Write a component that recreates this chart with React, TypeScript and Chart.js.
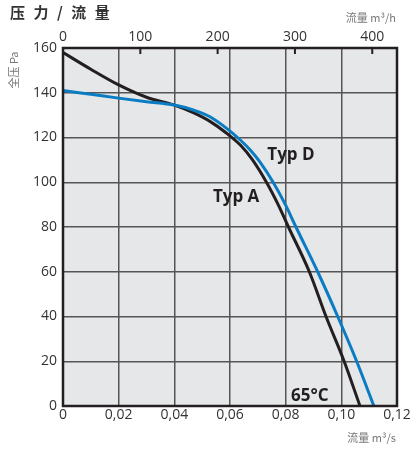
import React, { useEffect, useRef } from "react";
import { Chart, registerables } from "chart.js";
Chart.register(...registerables);

// Typ A (black) – flow m³/s vs pressure Pa
const typAFlow = [0, 0.01, 0.02, 0.03, 0.04, 0.0468, 0.0528, 0.0588, 0.0638, 0.0681, 0.0731, 0.0773, 0.081, 0.0885, 0.0945, 0.101, 0.1067];
const typAPressure = [158, 150.5, 143.5, 138, 134.5, 131.1, 127.2, 121.9, 116.5, 110, 100, 90, 80, 60, 40, 20, 0];
// Typ D (blue)
const typDFlow = [0, 0.01, 0.02, 0.03, 0.04, 0.0468, 0.0528, 0.0588, 0.0636, 0.0676, 0.0708, 0.0755, 0.0799, 0.0837, 0.0915, 0.0987, 0.1055, 0.1117];
const typDPressure = [141, 139.3, 137.6, 136, 134.5, 132.3, 129.3, 124.1, 119, 114, 109, 100, 90, 80, 60, 40, 20, 0];

const xTicks = [0, 0.02, 0.04, 0.06, 0.08, 0.1, 0.12];
const xTickLabels = ["0", "0,02", "0,04", "0,06", "0,08", "0,10", "0,12"];
const topTicks = [0, 100, 200, 300, 400];
const yTicks = [0, 20, 40, 60, 80, 100, 120, 140, 160];

const titleChars = ["压", "力", "/", "流", "量"];
const yTitle = "全压 Pa";
const xTitle = "流量 m³/s";
const topTitle = "流量 m³/h";
const labels = [
  { text: "Typ D", x: 0.0819, y: 112 },
  { text: "Typ A", x: 0.0622, y: 93.4 },
  { text: "65°C", x: 0.0887, y: 4.5 },
];

const FONT = "'Open Sans', 'DejaVu Sans', sans-serif";
const CJK = "'Noto Sans CJK SC', sans-serif";

export default function App() {
  const ref = useRef<HTMLCanvasElement>(null);
  useEffect(() => {
    if (!ref.current) return;
    const bgPlugin = {
      id: "bg",
      beforeDraw(chart: any) {
        const { ctx, chartArea: a } = chart;
        ctx.save();
        ctx.fillStyle = "#e6e7e8";
        ctx.fillRect(a.left, a.top, a.right - a.left, a.bottom - a.top);
        ctx.restore();
      },
      afterDraw(chart: any) {
        const { ctx, chartArea: a, scales } = chart;
        ctx.save();
        ctx.strokeStyle = "#231f20";
        ctx.lineWidth = 2.5;
        ctx.strokeRect(a.left, a.top, a.right - a.left, a.bottom - a.top);
        ctx.lineWidth = 2;
        for (const t of topTicks) {
          if (t === 0) continue;
          const px = scales.x2.getPixelForValue(t);
          ctx.beginPath();
          ctx.moveTo(px, a.top);
          ctx.lineTo(px, a.top + 6);
          ctx.stroke();
        }
        ctx.fillStyle = "#231f20";
        ctx.font = `bold 17px ${FONT}`;
        ctx.textAlign = "center";
        ctx.textBaseline = "middle";
        for (const l of labels) {
          ctx.fillText(l.text, scales.x.getPixelForValue(l.x), scales.y.getPixelForValue(l.y));
        }
        ctx.textAlign = "left";
        ctx.font = `bold 15px ${CJK}`;
        ctx.fillStyle = "#333";
        let tx = 10;
        for (const c of titleChars) {
          ctx.fillText(c, tx, 12);
          tx += ctx.measureText(c).width + 8.5;
        }
        ctx.font = `11px ${CJK}`;
        ctx.fillStyle = "#777";
        ctx.textAlign = "right";
        ctx.fillText(topTitle, 396, 18);
        ctx.fillText(xTitle, 396, 438);
        ctx.translate(14, 70);
        ctx.rotate(-Math.PI / 2);
        ctx.textAlign = "center";
        ctx.fillText(yTitle, 0, 0);
        ctx.restore();
      },
    };
    const chart = new Chart(ref.current, {
      type: "line",
      data: {
        datasets: [
          {
            label: "Typ D",
            data: typDFlow.map((x, i) => ({ x, y: typDPressure[i] })),
            borderColor: "#0a7cc4",
            borderWidth: 3,
            pointRadius: 0,
            cubicInterpolationMode: "monotone",
          },
          {
            label: "Typ A",
            data: typAFlow.map((x, i) => ({ x, y: typAPressure[i] })),
            borderColor: "#231f20",
            borderWidth: 3,
            pointRadius: 0,
            cubicInterpolationMode: "monotone",
          },
        ],
      },
      options: {
        animation: false,
        responsive: false,
        maintainAspectRatio: false,
        layout: { padding: { left: 0, right: 15, top: 0, bottom: 0 } },
        plugins: { legend: { display: false }, tooltip: { enabled: false } },
        scales: {
          x: {
            type: "linear",
            position: "bottom",
            min: 0,
            max: 0.12,
            afterFit: (s: any) => { s.height = 44; },
            afterBuildTicks: (s: any) => { s.ticks = xTicks.map((v) => ({ value: v })); },
            ticks: {
              callback: (v: any) => xTickLabels[xTicks.findIndex((t) => Math.abs(t - v) < 1e-9)] ?? "",
              color: "#333",
              font: { family: FONT, size: 14 },
              padding: 1,
              maxRotation: 0,
              autoSkip: false,
            },
            grid: { color: "#555", lineWidth: 1.5, drawTicks: false },
            border: { display: false },
          },
          x2: {
            type: "linear",
            position: "top",
            min: 0,
            max: 432,
            afterFit: (s: any) => { s.height = 48; },
            afterBuildTicks: (s: any) => { s.ticks = topTicks.map((v) => ({ value: v })); },
            ticks: {
              color: "#333",
              font: { family: FONT, size: 14 },
              padding: 3,
              maxRotation: 0,
              autoSkip: false,
            },
            grid: { display: false, drawTicks: false },
            border: { display: false },
          },
          y: {
            type: "linear",
            min: 0,
            max: 160,
            afterFit: (s: any) => { s.width = 63; },
            afterBuildTicks: (s: any) => { s.ticks = yTicks.map((v) => ({ value: v })); },
            ticks: {
              color: "#333",
              font: { family: FONT, size: 14 },
              padding: 6,
            },
            grid: { color: "#555", lineWidth: 1.5, drawTicks: false },
            border: { display: false },
          },
        },
      },
      plugins: [bgPlugin],
    } as any);
    return () => chart.destroy();
  }, []);
  return (
    <div style={{ position: "absolute", left: 0, top: 0, width: 412, height: 450, background: "#fff" }}>
      <canvas ref={ref} width={412} height={450} style={{ width: 412, height: 450 }} />
    </div>
  );
}
